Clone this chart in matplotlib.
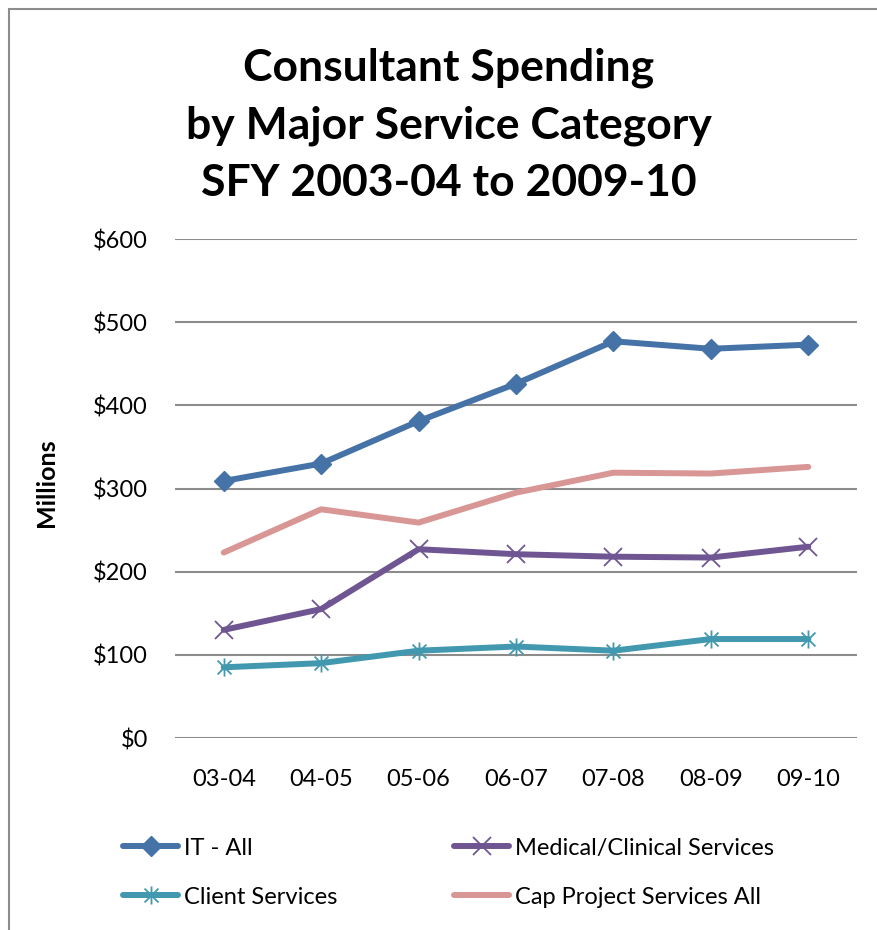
import matplotlib
matplotlib.use("Agg")
import matplotlib.pyplot as plt
from matplotlib.path import Path
from matplotlib.patches import Rectangle

# Fiscal years (SFY) and spending by service category, $ millions
years = ["03-04", "04-05", "05-06", "06-07", "07-08", "08-09", "09-10"]
it_all = [309, 330, 381, 426, 477, 468, 473]
medical = [130, 155, 227, 221, 218, 217, 230]
client = [85, 90, 105, 110, 105, 119, 119]
cap_project = [223, 275, 259, 295, 319, 318, 326]
y_ticks = [0, 100, 200, 300, 400, 500, 600]
title_lines = ["Consultant Spending", "by Major Service Category",
               "SFY 2003-04 to 2009-10"]

plt.rcParams["font.family"] = ["Lato", "DejaVu Sans"]

W, H = 877, 930
fig = plt.figure(figsize=(W / 100, H / 100), dpi=100)


def fx(px):
    return px / W


def fy(py):
    return 1 - py / H


# outer chart border (partly running off the canvas)
fig.patches.append(Rectangle((fx(9), -0.1), 2.0, fy(9) + 0.1,
                             transform=fig.transFigure, fill=False,
                             edgecolor="#8c8c8c", linewidth=1.5))

ax = fig.add_axes([fx(175), fy(738), fx(857 - 175), (738 - 239) / H])

# asterisk marker: an x with a vertical stroke
star = Path([(-1, -1), (1, 1), (-1, 1), (1, -1), (0, -1.3), (0, 1.3)],
            [Path.MOVETO, Path.LINETO, Path.MOVETO, Path.LINETO,
             Path.MOVETO, Path.LINETO])

x = range(len(years))
lw = 4.3
h_it, = ax.plot(x, it_all, color="#4572A7", lw=lw, marker="D", ms=10,
                label="IT - All", solid_capstyle="round")
h_med, = ax.plot(x, medical, color="#6F5592", lw=lw, marker="x", ms=13,
                 mew=1.3, label="Medical/Clinical Services",
                 solid_capstyle="round")
h_cli, = ax.plot(x, client, color="#4198AF", lw=lw, marker=star, ms=13,
                 mew=1.3, label="Client Services", solid_capstyle="round")
h_cap, = ax.plot(x, cap_project, color="#D89694", lw=lw,
                 label="Cap Project Services All", solid_capstyle="round")

ax.set_xlim(-0.5, len(years) - 0.5)
ax.set_ylim(0, 600)
ax.set_yticks(y_ticks)
ax.set_yticklabels([f"${v}" for v in y_ticks])
ax.set_xticks(list(x))
ax.set_xticklabels(years)
ax.tick_params(axis="both", length=0, labelsize=17)
ax.tick_params(axis="y", pad=19.5)
ax.tick_params(axis="x", pad=22)
ax.grid(axis="y", color="#8c8c8c", linewidth=1.5)
ax.set_axisbelow(True)
for s in ax.spines.values():
    s.set_visible(False)

fig.text(fx(46), fy(483), "Millions", rotation=90, ha="center",
         va="center", fontsize=18, fontweight="bold")

for line, base in zip(title_lines, [80, 138, 196]):
    fig.text(fx(449), fy(base), line, ha="center", va="baseline",
             fontsize=32, fontweight="bold")

# legend entries laid out in two columns
entries = [(h_it, 123, 848), (h_cli, 123, 897),
           (h_med, 454, 848), (h_cap, 454, 897)]
for h, lx, ly in entries:
    fig.legend([h], [h.get_label()], loc="center left",
               bbox_to_anchor=(fx(lx), fy(ly)), frameon=False,
               borderpad=0, borderaxespad=0, fontsize=17,
               handlelength=2.35, handletextpad=0.25)

fig.savefig("out.png", dpi=100)
